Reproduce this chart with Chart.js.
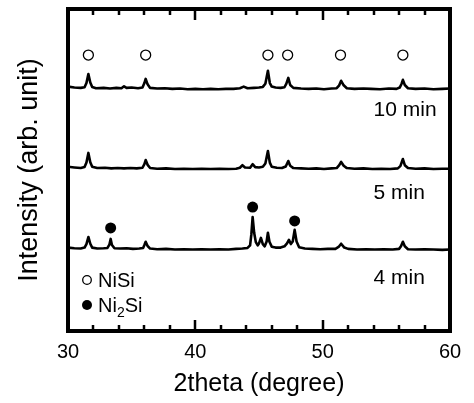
<!DOCTYPE html>
<html><head><meta charset="utf-8">
<script src="https://cdn.jsdelivr.net/npm/chart.js@4"></script>
<style>html,body{margin:0;padding:0;background:#fff;}canvas{display:block;}</style>
</head><body>
<canvas id="c" width="474" height="403"></canvas>
<script>
// ---- data (2theta in degree, intensity in arb. unit incl. vertical offset) ----
const trace10min = [[30,75.9],[30.5,75.6],[31.0,75.5],[31.3,75.7],[31.45,77.0],[31.6,79.8],[31.75,77.2],[31.9,75.8],[32.2,75.4],[32.8,75.5],[33.3,75.3],[33.8,75.5],[34.2,75.4],[34.4,76.0],[34.6,75.5],[35.0,75.6],[35.5,75.4],[35.85,75.6],[36.0,77.0],[36.1,78.3],[36.25,76.6],[36.45,75.5],[37,75.3],[37.6,75.4],[38.2,75.2],[38.8,75.3],[39.4,75.1],[40,75.2],[40.6,75.1],[41.2,75.2],[41.8,75.1],[42.4,75.2],[43,75.2],[43.5,75.4],[43.8,75.9],[44.1,75.4],[44.6,75.5],[45.0,75.6],[45.3,75.8],[45.5,76.8],[45.7,80.8],[45.85,77.0],[46.0,75.9],[46.3,75.6],[46.7,75.5],[47.0,75.7],[47.15,76.8],[47.3,78.6],[47.45,76.4],[47.7,75.5],[48.3,75.3],[48.9,75.2],[49.5,75.3],[50.1,75.1],[50.7,75.3],[51.1,75.4],[51.3,76.3],[51.45,77.7],[51.65,76.3],[51.9,75.4],[52.5,75.2],[53.2,75.3],[53.8,75.2],[54.5,75.1],[55.2,75.3],[55.8,75.2],[56.05,75.6],[56.2,76.8],[56.3,78.0],[56.45,76.4],[56.7,75.4],[57.3,75.2],[58,75.3],[58.7,75.1],[59.4,75.2],[60,75.3]];
const trace5min = [[30,51.0],[30.5,50.8],[31.0,50.6],[31.3,50.9],[31.45,52.3],[31.6,55.3],[31.75,52.4],[31.9,51.0],[32.3,50.6],[32.9,50.7],[33.4,50.5],[33.9,50.6],[34.4,50.5],[34.9,50.6],[35.4,50.5],[35.85,50.7],[36.0,51.8],[36.1,53.1],[36.25,51.6],[36.45,50.6],[37,50.4],[37.7,50.5],[38.4,50.3],[39.1,50.4],[39.8,50.3],[40.5,50.4],[41.2,50.3],[41.9,50.4],[42.6,50.3],[43.2,50.4],[43.5,50.7],[43.7,51.5],[43.9,50.8],[44.3,50.7],[44.5,51.8],[44.7,50.9],[45.0,50.8],[45.3,51.0],[45.5,52.0],[45.7,55.9],[45.85,52.3],[46.0,51.0],[46.4,50.7],[46.8,50.6],[47.1,51.1],[47.3,52.8],[47.45,51.3],[47.7,50.6],[48.3,50.5],[48.9,50.4],[49.5,50.5],[50.1,50.3],[50.7,50.5],[51.1,50.6],[51.3,51.5],[51.45,52.5],[51.65,51.3],[51.9,50.6],[52.5,50.4],[53.2,50.5],[53.9,50.3],[54.6,50.4],[55.3,50.3],[55.9,50.5],[56.1,51.2],[56.3,53.4],[56.45,51.5],[56.7,50.6],[57.3,50.4],[58,50.5],[58.7,50.3],[59.4,50.4],[60,50.4]];
const trace4min = [[30,25.9],[30.5,25.7],[31.0,25.6],[31.3,25.9],[31.45,27.0],[31.6,29.2],[31.75,27.1],[31.9,25.9],[32.3,25.6],[32.8,25.7],[33.1,25.8],[33.25,26.8],[33.35,28.6],[33.45,26.7],[33.65,25.7],[34.1,25.6],[34.6,25.7],[35.1,25.5],[35.6,25.6],[35.9,25.8],[36.0,26.7],[36.1,27.7],[36.25,26.4],[36.45,25.6],[37,25.4],[37.7,25.5],[38.4,25.3],[39.1,25.4],[39.8,25.3],[40.5,25.4],[41.2,25.3],[41.9,25.4],[42.6,25.3],[43.2,25.5],[43.7,25.6],[44.1,25.8],[44.3,26.6],[44.4,30.0],[44.5,35.4],[44.62,30.5],[44.75,27.6],[44.9,26.6],[45.0,27.2],[45.15,28.9],[45.3,27.0],[45.45,26.3],[45.6,27.8],[45.7,30.5],[45.82,27.7],[46.0,26.2],[46.3,25.9],[46.7,25.9],[47.0,26.3],[47.2,27.2],[47.35,28.3],[47.5,27.0],[47.65,27.8],[47.8,31.4],[47.95,27.8],[48.15,26.0],[48.6,25.6],[49.2,25.5],[49.8,25.4],[50.4,25.5],[51.0,25.5],[51.25,26.1],[51.45,27.1],[51.7,25.9],[52.0,25.5],[52.7,25.3],[53.4,25.4],[54.1,25.3],[54.8,25.4],[55.5,25.3],[56.0,25.5],[56.15,26.3],[56.3,27.7],[56.45,26.3],[56.7,25.4],[57.3,25.3],[58,25.4],[58.7,25.3],[59.4,25.2],[60,25.3]];

const niSiPeaks = [31.6, 36.1, 45.7, 47.25, 51.4, 56.3];
const niSiMarkerLevel = 85.7;
const ni2SiPeaks = [33.35, 44.5, 47.8];
const ni2SiMarkerLevels = [32.0, 38.5, 34.2];

const traceLabels = ['10 min', '5 min', '4 min'];
const traceLabelLevels = [68.6, 42.9, 16.5];
const traceLabelX = 54.0;

const xMin = 30, xMax = 60, xMajorStep = 10, xMinorStep = 2;
const yMin = 0, yMax = 100;
const legendNames = ['NiSi', 'Ni', '2', 'Si'];

// ---- chart ----
const FONT = "'Liberation Sans', Arial, Helvetica, sans-serif";
Chart.defaults.font.family = FONT;
Chart.defaults.color = '#000';
const pts = a => a.map(([x, y]) => ({x, y}));

const lineDs = (d) => ({type: 'scatter', data: pts(d), showLine: true, borderColor: '#000', borderWidth: 2.6,
  pointRadius: 0, tension: 0, borderJoinStyle: 'round', borderCapStyle: 'round', fill: false});

const framePlugin = {
  id: 'frame',
  afterDatasetsDraw(chart) {
    const {ctx, chartArea: a, scales: {x, y}} = chart;
    ctx.save();
    ctx.strokeStyle = '#000';
    ctx.lineWidth = 2.5;
    for (let v = xMin + xMinorStep; v < xMax; v += xMinorStep) {
      const px = Math.round(x.getPixelForValue(v));
      const len = (v % xMajorStep === 0) ? 11 : 6;
      ctx.beginPath();
      ctx.moveTo(px, a.bottom); ctx.lineTo(px, a.bottom - len);
      ctx.moveTo(px, a.top); ctx.lineTo(px, a.top + len);
      ctx.stroke();
    }
    ctx.lineWidth = 4;
    ctx.strokeRect(a.left, a.top, a.right - a.left, a.bottom - a.top);
    ctx.fillStyle = '#000';
    ctx.font = '21px ' + FONT;
    ctx.textAlign = 'left';
    ctx.textBaseline = 'middle';
    traceLabels.forEach((t, i) => ctx.fillText(t, x.getPixelForValue(traceLabelX), y.getPixelForValue(traceLabelLevels[i])));
    const lx = a.left + 19, ly1 = 280, ly2 = 305;
    ctx.lineWidth = 1.3;
    ctx.beginPath(); ctx.arc(lx, ly1, 4.3, 0, Math.PI * 2); ctx.fillStyle = '#fff'; ctx.fill(); ctx.stroke();
    ctx.beginPath(); ctx.arc(lx, ly2, 5, 0, Math.PI * 2); ctx.fillStyle = '#000'; ctx.fill();
    ctx.fillStyle = '#000';
    ctx.font = '20px ' + FONT;
    ctx.textBaseline = 'alphabetic';
    const tx = lx + 11;
    ctx.fillText(legendNames[0], tx, ly1 + 7);
    ctx.fillText(legendNames[1], tx, ly2 + 7);
    let w = ctx.measureText(legendNames[1]).width;
    ctx.font = '14px ' + FONT;
    ctx.fillText(legendNames[2], tx + w, ly2 + 12);
    w += ctx.measureText(legendNames[2]).width;
    ctx.font = '20px ' + FONT;
    ctx.fillText(legendNames[3], tx + w, ly2 + 7);
    ctx.restore();
  }
};

new Chart(document.getElementById('c'), {
  type: 'scatter',
  data: {
    datasets: [
      lineDs(trace4min), lineDs(trace5min), lineDs(trace10min),
      {type: 'scatter', data: niSiPeaks.map(x => ({x, y: niSiMarkerLevel})), pointRadius: 5, pointHoverRadius: 5,
        pointStyle: 'circle', backgroundColor: '#fff', borderColor: '#000', borderWidth: 1.3},
      {type: 'scatter', data: ni2SiPeaks.map((x, i) => ({x, y: ni2SiMarkerLevels[i]})), pointRadius: 5.5, pointHoverRadius: 5.5,
        pointStyle: 'circle', backgroundColor: '#000', borderColor: '#000', borderWidth: 0}
    ]
  },
  options: {
    responsive: false, animation: false, devicePixelRatio: 1,
    layout: {padding: {top: 9, right: 24, left: 0, bottom: 0}},
    plugins: {legend: {display: false}, tooltip: {enabled: false}},
    scales: {
      x: {
        type: 'linear', min: xMin, max: xMax,
        grid: {display: false, drawTicks: false}, border: {display: false},
        ticks: {stepSize: xMajorStep, padding: 9, font: {size: 20}, color: '#000'},
        title: {display: true, text: '2theta (degree)', font: {size: 25}, color: '#000', padding: {top: 4, bottom: 4}},
        afterFit: s => { s.height = 72; }
      },
      y: {
        type: 'linear', min: yMin, max: yMax,
        grid: {display: false, drawTicks: false}, border: {display: false},
        ticks: {display: false},
        title: {display: true, text: 'Intensity (arb. unit)', font: {size: 27}, color: '#000', padding: {top: 13.8, bottom: 4}},
        afterFit: s => { s.width = 68; }
      }
    }
  },
  plugins: [framePlugin]
});
</script>
</body></html>
